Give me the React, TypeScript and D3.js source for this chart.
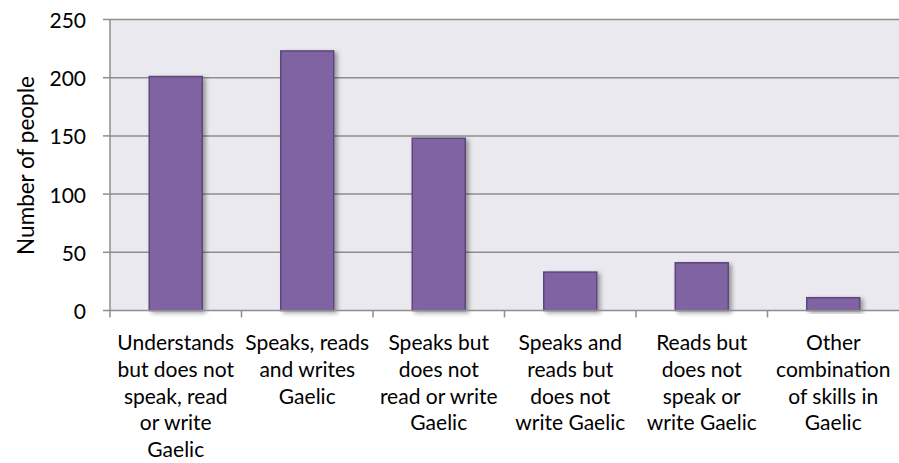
import React from "react";
import * as d3 from "d3";

const categories: string[][] = [
  ["Understands", "but does not", "speak, read", "or write", "Gaelic"],
  ["Speaks, reads", "and writes", "Gaelic"],
  ["Speaks but", "does not", "read or write", "Gaelic"],
  ["Speaks and", "reads but", "does not", "write Gaelic"],
  ["Reads but", "does not", "speak or", "write Gaelic"],
  ["Other", "combination", "of skills in", "Gaelic"],
];
const values: number[] = [201, 223, 148, 33, 41, 11];
const yTicks: number[] = [0, 50, 100, 150, 200, 250];
const yTitle = "Number of people";

const W = 899;
const H = 463;
const M = { left: 110, right: 0, top: 19.5, bottom: 152.5 };
const FONT = "Lato, 'Open Sans', sans-serif";

export default function App() {
  const x = d3
    .scaleBand<number>()
    .domain(values.map((_, i) => i))
    .range([M.left, W - M.right])
    .paddingInner(0)
    .paddingOuter(0);
  const y = d3.scaleLinear().domain([0, 250]).range([H - M.bottom, M.top]);
  const bandW = x.bandwidth();
  const bw = bandW * 0.403;

  return (
    <svg
      width={W}
      height={H}
      style={{ position: "absolute", left: 0, top: 0, background: "#fff" }}
    >
      <defs>
        <filter id="sh" x="-20%" y="-20%" width="150%" height="140%">
          <feDropShadow dx="3" dy="2" stdDeviation="2" floodColor="#000" floodOpacity="0.35" />
        </filter>
      </defs>
      <rect
        x={M.left}
        y={M.top}
        width={W - M.right - M.left}
        height={y(0) - M.top}
        fill="#EAE9EF"
      />
      {yTicks.map((t) => (
        <g key={t}>
          {t > 0 && (
            <line x1={M.left} x2={W - M.right} y1={y(t)} y2={y(t)} stroke="#8E8E8E" strokeWidth={1.5} />
          )}
          <line x1={M.left - 7} x2={M.left} y1={y(t)} y2={y(t)} stroke="#8E8E8E" strokeWidth={1.5} />
          <text
            x={86}
            y={y(t)}
            textAnchor="end"
            dominantBaseline="central"
            fontFamily={FONT}
            fontSize={21}
            fill="#000"
          >
            {t}
          </text>
        </g>
      ))}
      {values.map((v, i) => {
        const cx = (x(i) as number) + bandW / 2;
        return (
          <rect
            key={i}
            x={cx - bw / 2}
            y={y(v)}
            width={bw}
            height={y(0) - y(v)}
            fill="#8064A2"
            stroke="#5C4778"
            strokeWidth={1.5}
            filter="url(#sh)"
          />
        );
      })}
      <line x1={M.left} x2={M.left} y1={M.top} y2={y(0)} stroke="#8E8E8E" strokeWidth={1.5} />
      <line x1={M.left} x2={W - M.right} y1={y(0)} y2={y(0)} stroke="#8E8E8E" strokeWidth={1.5} />
      {values.map((_, i) => (
        <line
          key={i}
          x1={x(i) as number}
          x2={x(i) as number}
          y1={y(0)}
          y2={y(0) + 7}
          stroke="#8E8E8E"
          strokeWidth={1.5}
        />
      ))}
      {categories.map((lines, i) => {
        const cx = (x(i) as number) + bandW / 2;
        return (
          <text key={i} textAnchor="middle" fontFamily={FONT} fontSize={21} fill="#000">
            {lines.map((l, j) => (
              <tspan key={j} x={cx} y={350 + j * 26.8}>
                {l}
              </tspan>
            ))}
          </text>
        );
      })}
      <text
        transform={`translate(25,165.5) rotate(-90)`}
        textAnchor="middle"
        dominantBaseline="central"
        fontFamily={FONT}
        fontSize={22.5}
        fill="#000"
      >
        {yTitle}
      </text>
    </svg>
  );
}
